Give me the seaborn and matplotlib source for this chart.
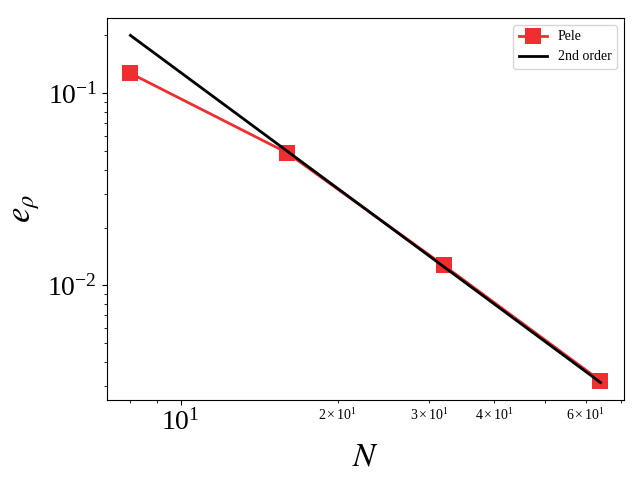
import numpy as np
import pandas as pd
import matplotlib
matplotlib.use("Agg")
import matplotlib.pyplot as plt
import seaborn as sns

# Convergence data
N = [8, 16, 32, 64]
err_pele = [0.127, 0.049, 0.0127, 0.00319]
err_2nd = [0.2, 0.05, 0.0125, 0.003125]

plt.rcParams['font.family'] = ['Liberation Serif', 'DejaVu Serif']
plt.rcParams['mathtext.fontset'] = 'stix'

df = pd.DataFrame({'N': N, 'Pele': err_pele, '2nd order': err_2nd})

fig, ax = plt.subplots(figsize=(6.4, 4.8), dpi=100)
sns.lineplot(data=df, x='N', y='Pele', ax=ax, color='#ee2e31', marker='s',
             markersize=11, markeredgewidth=0, linewidth=2, label='Pele')
sns.lineplot(data=df, x='N', y='2nd order', ax=ax, color='black',
             linewidth=2, label='2nd order')
ax.set_xscale('log')
ax.set_yscale('log')
ax.set_xlabel(r'$N$', fontsize=24)
ax.set_ylabel(r'$e_\rho$', fontsize=25)
ax.tick_params(axis='both', which='major', labelsize=20)
ax.tick_params(axis='x', which='minor', labelsize=10)
ax.legend(loc='upper right', fontsize=10)
fig.subplots_adjust(left=0.167, right=0.975, top=0.9625, bottom=0.167)
plt.savefig("out.png")
